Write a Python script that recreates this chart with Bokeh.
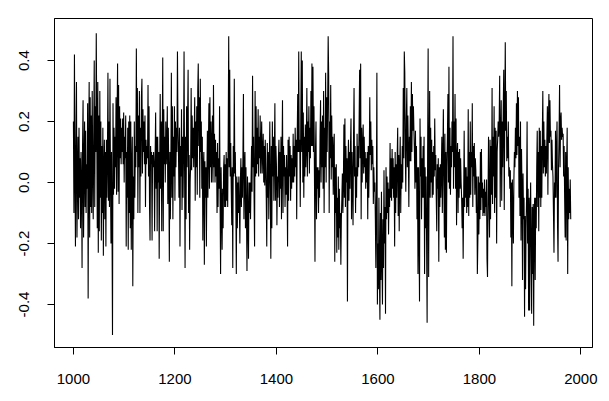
from bokeh.plotting import figure
from bokeh.models import Range1d, FixedTicker, PrintfTickFormatter
from bokeh.embed import file_html
from bokeh.resources import INLINE

start_year = 1000

v1000 = [0.20, -0.10, 0.42, 0.05, -0.21, 0.12, 0.33, -0.18, 0.02, 0.15,
         -0.12, 0.18, -0.05, 0.08, -0.15, 0.10, 0.00, -0.28, 0.12, 0.27,
         -0.18, 0.05, 0.20, -0.08, 0.17, -0.10, 0.06, -0.02, 0.26, -0.38,
         0.10, 0.33, -0.18, 0.28, -0.08, 0.22, -0.10, 0.30, 0.05, -0.12,
         0.15, 0.40, -0.08, 0.25, 0.10, 0.49, 0.18, -0.15, 0.33, -0.23,
         0.22, -0.16, 0.30, -0.05, 0.20, -0.19, 0.12, -0.10, 0.18, -0.24,
         0.05, 0.14, -0.12, 0.10, -0.21, 0.14, -0.05, 0.08, 0.36, -0.06,
         0.20, -0.08, 0.34, 0.02, -0.20, 0.10, -0.12, -0.50, 0.26, -0.04,
         0.18, -0.02, 0.15, 0.05, 0.28, -0.04, 0.20, 0.39, -0.03, 0.32,
         -0.07, 0.25, 0.08, 0.21, 0.06, 0.18, 0.10, 0.21, 0.06, 0.23]

v1100 = [0.00, 0.15, 0.08, 0.22, -0.21, 0.10, -0.05, 0.18, -0.22, 0.20,
         -0.10, 0.22, -0.15, 0.20, -0.22, 0.05, 0.15, -0.34, 0.02, -0.12,
         0.20, -0.05, 0.12, 0.05, 0.44, 0.10, 0.31, -0.10, 0.22, 0.05,
         0.30, -0.10, 0.18, 0.02, 0.28, 0.34, 0.03, 0.24, 0.10, 0.20,
         0.06, 0.22, -0.08, 0.14, 0.06, 0.12, 0.08, 0.32, 0.02, 0.25,
         -0.08, -0.19, 0.12, 0.06, 0.10, -0.19, 0.09, 0.05, 0.10, 0.06,
         -0.16, 0.08, 0.23, -0.02, 0.15, -0.16, 0.15, 0.00, 0.10, -0.25,
         0.05, 0.29, -0.02, 0.20, -0.16, 0.12, 0.41, -0.16, 0.24, 0.06,
         0.15, 0.00, 0.20, 0.06, 0.12, 0.25, -0.07, 0.18, 0.02, -0.26,
         0.10, -0.12, 0.05, 0.36, -0.05, 0.25, -0.12, 0.15, 0.02, 0.25]

v1200 = [-0.06, 0.20, 0.05, 0.18, 0.10, 0.43, 0.18, 0.10, -0.05, 0.18,
         -0.21, 0.12, 0.02, 0.24, -0.09, 0.15, -0.05, 0.10, 0.43, 0.05,
         -0.28, 0.15, -0.12, 0.25, 0.05, 0.20, 0.37, -0.10, 0.09, -0.22,
         0.00, 0.06, 0.31, 0.04, 0.22, 0.08, 0.18, 0.05, 0.15, 0.28,
         -0.06, 0.20, 0.05, 0.25, -0.04, 0.30, 0.39, 0.12, 0.28, -0.05,
         0.34, 0.10, 0.20, -0.02, 0.15, -0.19, 0.05, 0.10, -0.27, 0.07,
         -0.05, 0.05, -0.21, 0.02, 0.17, -0.05, 0.12, 0.26, -0.02, 0.28,
         0.05, 0.20, 0.00, 0.12, 0.22, 0.00, 0.32, 0.05, 0.16, 0.00,
         0.14, 0.02, 0.10, -0.10, 0.13, -0.08, 0.08, -0.02, 0.25, -0.05,
         -0.30, 0.05, -0.08, -0.22, -0.02, -0.15, 0.05, 0.09, -0.08, 0.06]

v1300 = [-0.08, 0.10, -0.06, 0.08, -0.08, 0.15, 0.48, 0.05, 0.37, 0.02,
         0.13, -0.02, -0.14, 0.05, -0.28, 0.12, 0.02, 0.34, 0.03, 0.10,
         -0.05, -0.30, 0.02, -0.15, 0.00, -0.10, 0.02, -0.08, -0.20, 0.00,
         0.08, -0.08, 0.05, -0.05, 0.08, 0.29, -0.12, 0.05, 0.10, -0.15,
         0.05, -0.10, -0.29, 0.02, -0.12, -0.25, 0.00, -0.10, 0.00, -0.12,
         0.00, 0.12, -0.03, 0.35, 0.05, 0.15, -0.05, -0.21, 0.30, 0.02,
         0.25, 0.03, 0.18, 0.06, 0.24, 0.02, 0.15, 0.08, 0.22, 0.03,
         0.12, 0.20, 0.03, 0.10, 0.16, 0.00, 0.12, -0.01, 0.14, 0.05,
         -0.05, -0.21, 0.13, -0.05, 0.10, -0.12, 0.05, 0.20, -0.02, -0.25,
         0.12, -0.15, 0.20, 0.02, 0.15, -0.06, 0.10, 0.26, -0.06, 0.12]

v1400 = [0.06, -0.14, 0.02, -0.05, 0.08, 0.14, -0.08, 0.10, -0.02, 0.15,
         -0.12, 0.08, 0.27, -0.10, 0.12, 0.02, 0.09, -0.08, 0.05, -0.04,
         0.09, 0.00, -0.21, 0.14, -0.06, 0.15, 0.02, 0.12, -0.06, 0.09,
         -0.02, 0.08, 0.00, 0.16, 0.00, 0.12, 0.02, 0.18, 0.05, 0.14,
         -0.12, 0.15, 0.29, 0.10, 0.43, 0.10, 0.14, -0.08, 0.20, 0.43,
         0.10, 0.40, 0.00, 0.23, -0.05, 0.15, 0.02, 0.19, 0.05, 0.12,
         0.31, 0.02, 0.20, 0.10, 0.25, 0.03, 0.18, 0.08, 0.30, 0.12,
         0.39, 0.12, 0.38, 0.10, 0.25, 0.02, -0.26, 0.10, 0.20, -0.12,
         0.05, -0.02, 0.05, -0.10, 0.04, -0.05, 0.15, 0.27, 0.00, 0.20,
         0.05, 0.22, -0.02, 0.30, -0.10, 0.18, 0.05, 0.36, 0.00, 0.28]

v1500 = [0.10, 0.25, 0.48, 0.35, -0.10, 0.20, 0.08, 0.32, 0.01, 0.22,
         0.05, 0.15, -0.04, 0.10, 0.16, -0.26, 0.05, -0.10, 0.06, -0.23,
         -0.05, -0.18, 0.02, -0.22, -0.02, -0.15, -0.10, -0.27, -0.12, -0.05,
         0.03, -0.10, 0.00, 0.19, -0.05, 0.21, -0.08, 0.12, 0.00, 0.08,
         -0.39, 0.05, 0.14, -0.06, 0.10, -0.02, 0.12, 0.21, -0.12, 0.10,
         0.00, -0.14, 0.15, 0.31, 0.02, 0.12, -0.10, 0.05, -0.05, 0.16,
         0.02, 0.12, 0.05, 0.20, 0.37, 0.08, 0.39, -0.12, 0.18, 0.00,
         0.12, 0.19, 0.03, 0.15, 0.05, 0.10, -0.02, 0.08, 0.00, 0.10,
         -0.12, 0.12, -0.05, 0.08, 0.28, 0.09, 0.20, 0.04, 0.14, 0.06,
         0.12, -0.07, 0.05, -0.03, 0.00, -0.12, -0.28, -0.05, 0.36, -0.40]

v1600 = [-0.20, -0.35, -0.05, -0.30, -0.45, -0.10, -0.32, -0.03, -0.25, -0.40,
         -0.12, -0.28, 0.04, -0.20, -0.08, -0.43, 0.05, -0.12, 0.02, -0.10,
         0.00, -0.17, -0.02, -0.08, 0.13, -0.05, 0.08, -0.06, 0.11, -0.02,
         0.08, -0.05, 0.05, -0.21, 0.10, -0.10, 0.06, -0.05, 0.08, 0.18,
         -0.11, 0.09, -0.16, 0.05, 0.15, -0.10, 0.06, -0.02, 0.12, 0.00,
         0.31, 0.08, 0.43, 0.36, 0.10, -0.03, 0.20, 0.31, 0.05, 0.22,
         0.10, -0.08, 0.15, 0.07, 0.25, 0.07, 0.33, 0.10, 0.29, 0.17,
         0.25, 0.17, 0.10, -0.02, 0.17, 0.00, 0.12, -0.12, 0.05, -0.30,
         0.05, -0.15, -0.39, 0.21, 0.02, 0.15, -0.12, 0.08, -0.05, 0.12,
         -0.05, 0.15, -0.30, 0.05, -0.15, 0.02, -0.20, -0.46, 0.10, 0.44]

v1700 = [-0.31, 0.05, 0.30, -0.05, 0.18, 0.00, 0.14, -0.05, 0.10, -0.04,
         0.12, 0.02, 0.21, 0.04, 0.09, -0.05, -0.16, 0.06, -0.02, 0.08,
         -0.26, 0.05, -0.08, 0.06, -0.05, 0.04, 0.15, -0.10, 0.08, 0.24,
         0.00, -0.18, 0.16, -0.22, 0.10, -0.23, 0.05, 0.15, 0.29, 0.00,
         0.38, -0.02, 0.18, -0.04, 0.12, 0.05, 0.20, 0.10, 0.48, -0.02,
         0.20, 0.05, 0.29, -0.02, 0.21, -0.14, 0.08, 0.13, -0.10, 0.10,
         -0.05, 0.11, -0.02, 0.08, 0.00, -0.05, -0.15, -0.05, -0.25, -0.06,
         0.17, -0.08, 0.05, -0.05, 0.05, -0.10, 0.02, -0.08, 0.24, -0.11,
         0.10, -0.05, 0.20, -0.04, 0.10, 0.05, 0.26, -0.08, 0.12, 0.02,
         0.13, -0.04, 0.08, 0.04, -0.10, 0.02, -0.30, -0.19, 0.02, -0.17]

v1800 = [0.00, -0.12, 0.10, -0.09, 0.11, -0.05, 0.00, -0.11, -0.02, -0.10,
         0.01, -0.11, -0.03, -0.08, 0.01, -0.25, -0.31, -0.05, 0.15, -0.06,
         -0.18, 0.14, -0.12, 0.12, -0.04, 0.31, -0.07, 0.15, 0.02, 0.25,
         -0.10, 0.18, -0.05, 0.17, -0.20, 0.10, 0.14, 0.20, 0.15, 0.20,
         0.35, -0.08, 0.15, 0.27, -0.06, 0.20, 0.05, 0.24, 0.37, -0.09,
         0.20, 0.46, 0.17, 0.30, 0.07, 0.15, 0.08, 0.20, 0.02, 0.05,
         -0.02, 0.04, -0.18, 0.00, -0.34, 0.01, -0.10, -0.20, 0.01, 0.10,
         0.05, 0.18, 0.08, 0.26, 0.09, 0.30, 0.12, 0.28, -0.05, 0.15,
         -0.11, 0.20, -0.19, 0.11, -0.02, -0.32, 0.03, -0.12, -0.05, -0.44,
         -0.11, -0.35, -0.15, -0.05, 0.20, -0.20, -0.02, -0.42, -0.05, -0.42]

v1900 = [-0.10, 0.00, -0.25, -0.43, -0.08, -0.30, -0.07, -0.47, -0.10, -0.05,
         -0.32, -0.05, -0.15, 0.05, 0.17, -0.08, 0.10, -0.16, 0.18, -0.05,
         0.17, -0.08, 0.12, -0.05, 0.15, 0.30, 0.03, 0.20, 0.05, 0.14,
         0.02, 0.12, 0.03, 0.15, 0.25, -0.04, 0.20, 0.29, 0.13, 0.27,
         0.15, 0.17, 0.04, 0.14, 0.06, 0.02, -0.10, -0.23, 0.00, -0.05,
         0.17, -0.05, 0.10, 0.20, -0.14, -0.26, 0.05, 0.15, 0.32, 0.05,
         0.20, 0.23, 0.14, 0.18, 0.15, 0.16, 0.02, 0.12, -0.05, -0.18,
         0.10, -0.19, 0.05, 0.18, -0.30, 0.05, -0.12, -0.02, -0.10, 0.01,
         -0.12]

x_ticks = [1000, 1200, 1400, 1600, 1800, 2000]
y_ticks = [-0.4, -0.2, 0.0, 0.2, 0.4]

values = v1000 + v1100 + v1200 + v1300 + v1400 + v1500 + v1600 + v1700 + v1800 + v1900
years = list(range(start_year, start_year + len(values)))

FONT = "Liberation Sans"

p = figure(width=609, height=401, output_backend="svg", toolbar_location=None,
           x_range=Range1d(962.7, 2022.9), y_range=Range1d(-0.541, 0.538),
           min_border_left=54, min_border_right=17, min_border_top=18,
           min_border_bottom=54)

p.line(years, values, line_color="black", line_width=1.1)

p.xgrid.visible = False
p.ygrid.visible = False
p.outline_line_color = "black"
p.outline_line_width = 1
p.outline_line_alpha = 1.0
p.background_fill_color = "white"
p.border_fill_color = "white"

p.xaxis.ticker = FixedTicker(ticks=x_ticks)
p.yaxis.ticker = FixedTicker(ticks=y_ticks)
p.yaxis.formatter = PrintfTickFormatter(format="%.1f")

for ax in (p.xaxis, p.yaxis):
    ax.axis_line_color = "black"
    ax.axis_line_width = 1
    ax.major_tick_line_color = "black"
    ax.major_tick_in = 0
    ax.major_tick_out = 7
    ax.minor_tick_line_color = None
    ax.major_label_text_font = FONT
    ax.major_label_text_font_size = "15px"
    ax.major_label_text_color = "black"

p.xaxis.major_label_standoff = 19
p.yaxis.major_label_orientation = "vertical"
p.yaxis.major_label_standoff = 18

open("out.html", "w").write(file_html(p, INLINE))
